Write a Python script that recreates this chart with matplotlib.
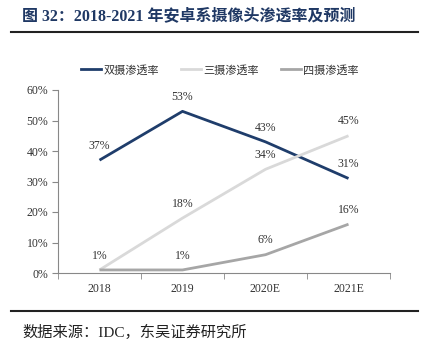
import matplotlib
matplotlib.use("Agg")
import matplotlib.pyplot as plt
from matplotlib.lines import Line2D

plt.rcParams['font.family'] = ['Liberation Serif', 'Noto Sans CJK SC']

years = ["2018", "2019", "2020E", "2021E"]
dual = [37, 53, 43, 31]
triple = [1, 18, 34, 45]
quad = [1, 1, 6, 16]
series_names = ["双摄渗透率", "三摄渗透率", "四摄渗透率"]
y_ticks = [0, 10, 20, 30, 40, 50, 60]

colors = ["#1F3D6B", "#D9D9D9", "#A6A6A6"]

W, H = 433, 345
fig = plt.figure(figsize=(W / 100, H / 100), dpi=100)
ax = fig.add_axes([58 / W, 1 - 273 / H, (390 - 58) / W, (273 - 90) / H])

x = list(range(len(years)))
series = [dual, triple, quad]
for vals, c in zip(series, colors):
    ax.plot(x, vals, color=c, lw=2.0, solid_capstyle='butt')

# value labels; shared 1% points at the start carry a single label
labels = [
    (0, dual[0]), (1, dual[1]), (2, dual[2]), (3, dual[3]),
    (1, triple[1]), (2, triple[2]), (3, triple[3]),
    (0, quad[0]), (1, quad[1]), (2, quad[2]), (3, quad[3]),
]
for i, v in labels:
    ax.annotate(f"{v}%", (i, v), xytext=(0, 6), textcoords='offset points',
                ha='center', va='bottom', fontsize=8.5, color='#333333')

ax.set_xlim(-0.5, 3.5)
ax.set_ylim(0, 60)
ax.set_yticks(y_ticks)
ax.set_yticklabels([f"{t}%" for t in y_ticks])
ax.set_xticks(x)
ax.set_xticklabels(years)
ax.set_xticks([-0.5, 0.5, 1.5, 2.5, 3.5], minor=True)
ax.tick_params(axis='x', which='major', length=0, pad=7, labelsize=8.5, colors='#333333')
ax.tick_params(axis='x', which='minor', length=4, color='#888888', direction='out')
ax.tick_params(axis='y', length=4, color='#888888', labelsize=8.5, labelcolor='#333333', pad=3)
for s in ['top', 'right']:
    ax.spines[s].set_visible(False)
for s in ['left', 'bottom']:
    ax.spines[s].set_color('#888888')
    ax.spines[s].set_linewidth(0.8)

handles = [Line2D([0], [0], color=c, lw=2) for c in colors]
leg = fig.legend(handles, series_names, loc='center', bbox_to_anchor=(220 / W, 1 - 70 / H),
                 ncol=3, frameon=False, handlelength=1.8, handletextpad=0.2,
                 columnspacing=2.0, prop={'family': ['Noto Sans CJK SC'], 'size': 8})
for t in leg.get_texts():
    t.set_color('#333333')

# header and footer
fig.text(22 / W, 1 - 17 / H, "图 32：2018-2021 年安卓系摄像头渗透率及预测",
         fontsize=11.5, fontweight='bold', color='#1F3864', va='center', ha='left')
fig.add_artist(Line2D([11 / W, 418 / W], [1 - 32 / H, 1 - 32 / H], color='#222222', lw=1.5))
fig.add_artist(Line2D([11 / W, 418 / W], [1 - 311 / H, 1 - 311 / H], color='#222222', lw=1.5))
fig.text(22 / W, 1 - 332 / H, "数据来源：IDC，东吴证券研究所",
         fontsize=11, color='#222222', va='center', ha='left')

fig.savefig("out.png", dpi=100)
